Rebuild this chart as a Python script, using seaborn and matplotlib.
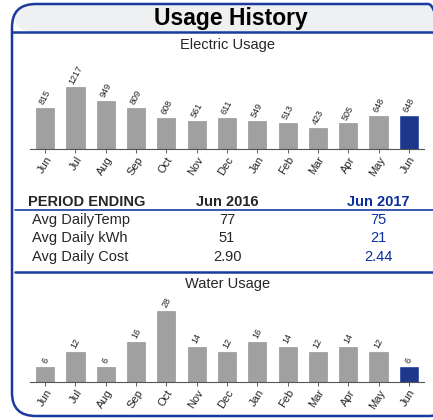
import pandas as pd
import matplotlib
matplotlib.use("Agg")
import matplotlib.pyplot as plt
import seaborn as sns
from matplotlib.patches import FancyBboxPatch

months = ["Jun", "Jul", "Aug", "Sep", "Oct", "Nov", "Dec", "Jan", "Feb", "Mar", "Apr", "May", "Jun"]
electric = [815, 1217, 949, 809, 608, 561, 611, 549, 513, 423, 505, 648, 648]
water = [6, 12, 6, 16, 28, 14, 12, 16, 14, 12, 14, 12, 6]
row_labels = ["Avg DailyTemp", "Avg Daily kWh", "Avg Daily Cost"]
prev_year = ["77", "51", "2.90"]
curr_year = ["75", "21", "2.44"]

GRAY = "#a0a0a0"
BLUE = "#0b2f9c"
BORDER = "#1a3a9e"

sns.set_theme(style="white")
plt.rcParams['font.family'] = ['Liberation Sans', 'DejaVu Sans']

W, H = 433, 420
fig = plt.figure(figsize=(W / 100, H / 100), dpi=100)


def px(x0, y0, x1, y1):
    # pixel box (top-left origin) -> figure fraction rect
    return [x0 / W, 1 - y1 / H, (x1 - x0) / W, (y1 - y0) / H]


# outer frame with rounded corners
frame = FancyBboxPatch((12 / W, 1 - 416 / H), 440 / W, 412 / H,
                       boxstyle="round,pad=0,rounding_size=0.055",
                       transform=fig.transFigure, fill=False,
                       edgecolor=BORDER, linewidth=1.8, clip_on=False)
fig.patches.append(frame)
hdr = FancyBboxPatch((12 / W, 1 - 32 / H), 440 / W, 28 / H,
                     boxstyle="round,pad=0,rounding_size=0.055",
                     transform=fig.transFigure, facecolor="#eef0f2",
                     edgecolor="none", zorder=0)
fig.patches.append(hdr)
fig.add_artist(plt.Line2D([12 / W, 1], [1 - 32 / H] * 2, color=BORDER, lw=1.8))
fig.text(231 / W, 1 - 18 / H, "Usage History", ha="center", va="center",
         fontsize=16.5, fontweight="bold", color="black")


def bar_panel(rect, values, ymax, title, title_y):
    ax = fig.add_axes(rect)
    df = pd.DataFrame({"month": range(len(months)), "val": values})
    cols = [GRAY] * (len(values) - 1) + [BLUE]
    sns.barplot(data=df, x="month", y="val", hue="month", palette=cols,
                legend=False, width=0.6, ax=ax, edgecolor="#8a8a8a", linewidth=0.4)
    ax.patches[-1].set_edgecolor(BLUE)
    ax.set_xlim(-0.5, len(values) - 0.5)
    ax.set_ylim(0, ymax)
    ax.set_xticks(range(len(months)))
    ax.set_xticklabels(months, rotation=58, ha="right", rotation_mode="anchor", fontsize=8)
    ax.set_yticks([])
    ax.set_xlabel("")
    ax.set_ylabel("")
    for s in ["top", "right", "left"]:
        ax.spines[s].set_visible(False)
    ax.spines["bottom"].set_color("#555555")
    ax.spines["bottom"].set_linewidth(0.8)
    ax.tick_params(axis="x", length=3, width=0.6, color="#444444", pad=1, bottom=True)
    ax.patch.set_alpha(0)
    for i, v in enumerate(values):
        ax.text(i, v + ymax * 0.025, str(v), rotation=62, ha="center", va="bottom",
                fontsize=6.5, color="#222222")
    fig.text(228 / W, 1 - title_y / H, title, ha="center", va="center", fontsize=10.5)
    return ax


bar_panel(px(30, 78, 424, 149), electric, 1400, "Electric Usage", 45)
bar_panel(px(30, 301, 424, 382), water, 32, "Water Usage", 284)

# comparison table
fig.text(28 / W, 1 - 202 / H, "PERIOD ENDING", ha="left", va="center",
         fontsize=10.5, fontweight="bold")
fig.text(227 / W, 1 - 202 / H, "Jun 2016", ha="center", va="center",
         fontsize=10.5, fontweight="bold")
fig.text(378 / W, 1 - 202 / H, "Jun 2017", ha="center", va="center",
         fontsize=10.5, fontweight="bold", color=BLUE)
fig.add_artist(plt.Line2D([15 / W, 1], [1 - 210 / H] * 2, color=BORDER, lw=1.2))
for k, (lab, a, b) in enumerate(zip(row_labels, prev_year, curr_year)):
    y = 1 - (220 + k * 18.3) / H
    fig.text(32 / W, y, lab, ha="left", va="center", fontsize=10.5)
    fig.text(227 / W, y, a, ha="center", va="center", fontsize=10.5)
    fig.text(378 / W, y, b, ha="center", va="center", fontsize=10.5, color=BLUE)
fig.add_artist(plt.Line2D([15 / W, 1], [1 - 272 / H] * 2, color=BORDER, lw=1.8))

fig.savefig("out.png", dpi=100)
